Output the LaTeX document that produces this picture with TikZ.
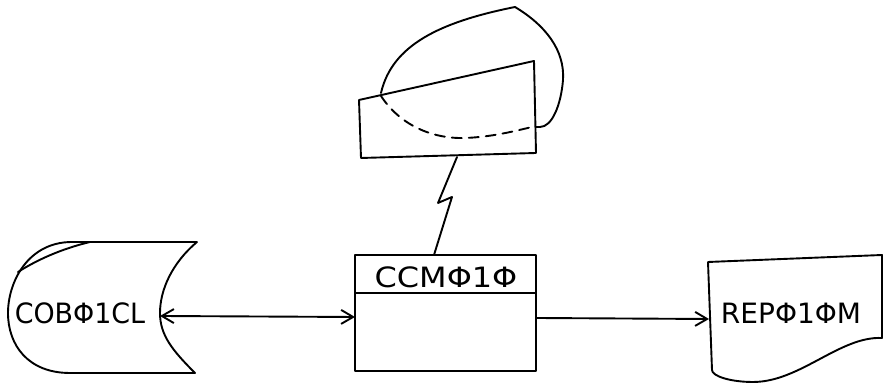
\documentclass[tikz,border=0pt]{standalone}
\usepackage{fontspec}
\newfontfamily\hand{DejaVu Sans}
\usetikzlibrary{arrows.meta}
\tikzset{
  ink/.style={line width=0.95pt, line join=round, line cap=round},
  lbl/.style={inner sep=0pt, font=\hand\fontsize{14}{14}\selectfont},
  barb/.style={-{Straight Barb[length=6pt,width=7pt,line width=0.95pt]}},
  dbarb/.style={{Straight Barb[length=6pt,width=7pt,line width=0.95pt]}-{Straight Barb[length=6pt,width=7pt,line width=0.95pt]}},
}
\begin{document}
\begin{tikzpicture}[x=0.5pt,y=-0.5pt]
\useasboundingbox (0,0) rectangle (884,383);
% ---------- terminal (display) ----------
\draw[ink] (359,100) -- (534,61) -- (536,153) -- (361,158) -- cycle;
\draw[ink] (381,93) .. controls (392,45) and (440,22) .. (515,7)
  .. controls (545,25) and (565,50) .. (563,80)
  .. controls (561,105) and (552,127) .. (540,127) -- (536,127);
\draw[ink, dash pattern=on 5pt off 3.5pt] (381,96) .. controls (400,125) and (432,139) .. (465,138)
  .. controls (492,137) and (515,131) .. (532,127);
\coordinate (termB) at (457,157);
% ---------- stored data ----------
\draw[ink] (197,242) -- (72,242) .. controls (28,242) and (8,282) .. (8,313)
  .. controls (8,345) and (28,373) .. (70,373) -- (195,373)
  .. controls (172,350) and (160,335) .. (160,313)
  .. controls (160,290) and (172,263) .. (197,242);
\draw[ink] (18,272) .. controls (40,258) and (65,248) .. (90,242);
\node[lbl] (cob) at (80,313) {\scalebox{0.96}[1]{COBΦ1CL}};
\coordinate (cobR) at (160,316);
% ---------- process box ----------
\draw[ink] (355,255) rectangle (536,371);
\draw[ink] (355,293) -- (536,293);
\node[lbl] (ccm) at (446,277) {\scalebox{1.14}[1]{CCMΦ1Φ}};
\coordinate (ccmL) at (355,317);
\coordinate (ccmR) at (536,318);
\coordinate (ccmT) at (434,255);
% ---------- document ----------
\draw[ink] (708,262) -- (882,255) -- (882,338)
  .. controls (840,336) and (800,382) .. (753,382)
  .. controls (730,382) and (712,376) .. (712,370) -- cycle;
\node[lbl] (rep) at (791,313) {REPΦ1ΦM};
\coordinate (repL) at (709,319);
% ---------- connectors ----------
\draw[ink] (termB) -- (438,203) -- (452,197) -- (ccmT);
\draw[ink, dbarb] (cobR) -- (ccmL);
\draw[ink, barb] (ccmR) -- (repL);
\end{tikzpicture}
\end{document}
